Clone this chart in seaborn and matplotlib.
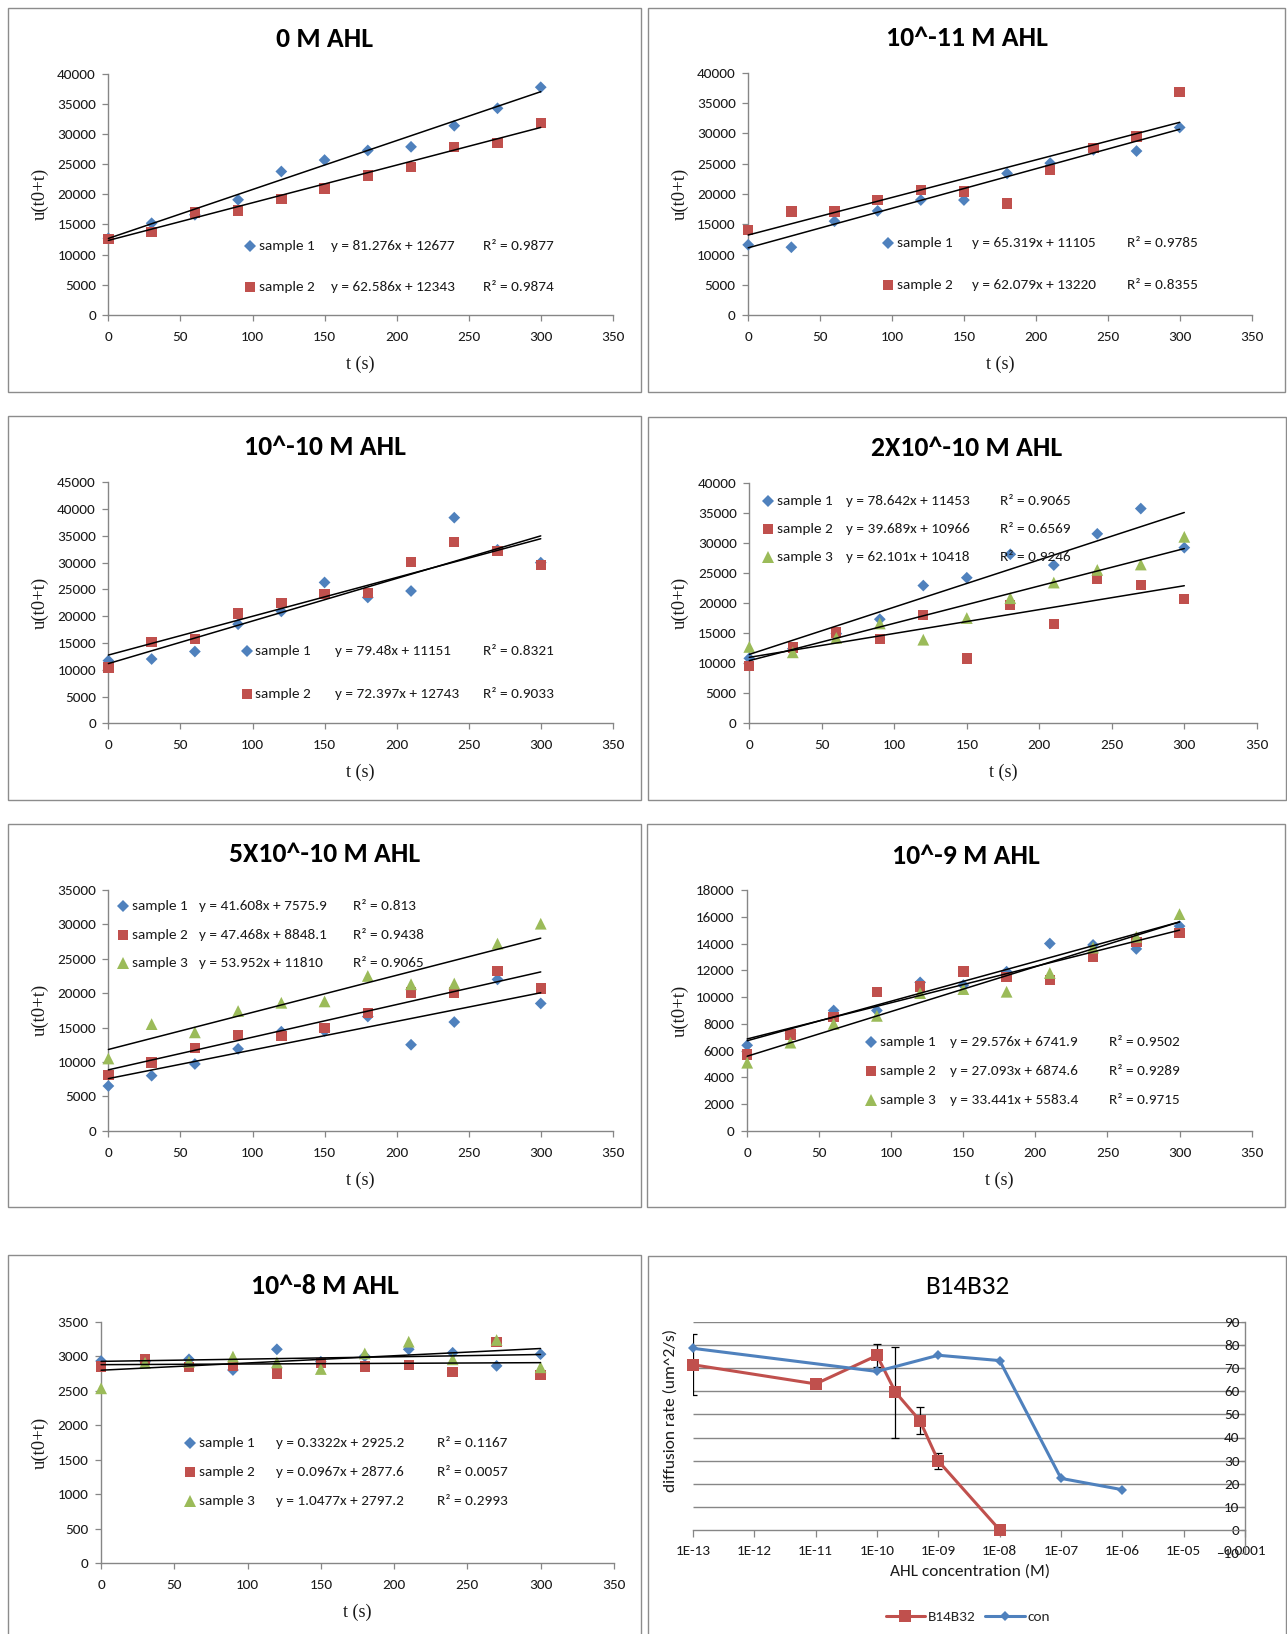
import numpy as np
import matplotlib
matplotlib.use("Agg")
import matplotlib.pyplot as plt
from matplotlib import font_manager
from matplotlib.patches import Rectangle
from matplotlib.lines import Line2D
from matplotlib.ticker import FixedLocator, FixedFormatter, NullLocator
import seaborn as sns

sns.set_theme(style="white")


def pick_font(names, fallback):
    available = {f.name for f in font_manager.fontManager.ttflist}
    for n in names:
        if n in available:
            return n
    return fallback


SANS = pick_font(["Carlito", "Lato", "Liberation Sans"], "DejaVu Sans")
SERIF = pick_font(["Liberation Serif", "DejaVu Serif"], "DejaVu Serif")
plt.rcParams["font.family"] = [SANS, "DejaVu Sans"]

# ---------------- data ----------------
t_s = [0, 30, 60, 90, 120, 150, 180, 210, 240, 270, 300]

# 0 M AHL
ahl0_s1 = [12700, 15200, 16600, 19100, 23800, 25700, 27300, 27900, 31400, 34300, 37800]
ahl0_s2 = [12600, 13700, 17000, 17300, 19200, 21000, 23100, 24500, 27900, 28500, 31900]
ahl0_slope = [81.276, 62.586]
ahl0_icpt = [12677, 12343]
ahl0_r2 = [0.9877, 0.9874]

# 10^-11 M AHL
e11_s1 = [11600, 11200, 15500, 17200, 19000, 19000, 23400, 25100, 27300, 27100, 31000]
e11_s2 = [14000, 17100, 17100, 19000, 20700, 20400, 18400, 24000, 27600, 29500, 36900]
e11_slope = [65.319, 62.079]
e11_icpt = [11105, 13220]
e11_r2 = [0.9785, 0.8355]

# 10^-10 M AHL
e10_s1 = [11700, 12000, 13400, 18500, 20900, 26300, 23500, 24700, 38400, 32400, 30000]
e10_s2 = [10400, 15200, 15700, 20500, 22500, 24100, 24300, 30100, 33900, 32200, 29600]
e10_slope = [79.48, 72.397]
e10_icpt = [11151, 12743]
e10_r2 = [0.8321, 0.9033]

# 2X10^-10 M AHL
x2e10_s1 = [10800, 12400, 14900, 17300, 22900, 24200, 28100, 26300, 31500, 35700, 29200]
x2e10_s2 = [9500, 12600, 15100, 14000, 18000, 10800, 19700, 16500, 24100, 23000, 20700]
x2e10_s3 = [12700, 11800, 14200, 16600, 13900, 17500, 20800, 23400, 25500, 26400, 31000]
x2e10_slope = [78.642, 39.689, 62.101]
x2e10_icpt = [11453, 10966, 10418]
x2e10_r2 = [0.9065, 0.6569, 0.9246]

# 5X10^-10 M AHL
x5e10_s1 = [6500, 8000, 9700, 11900, 14400, 14500, 16600, 12500, 15800, 22000, 18500]
x5e10_s2 = [8100, 9900, 12000, 13900, 13800, 14900, 17100, 20100, 20100, 23200, 20700]
x5e10_s3 = [10500, 15500, 14300, 17400, 18600, 18800, 22500, 21300, 21400, 27200, 30100]
x5e10_slope = [41.608, 47.468, 53.952]
x5e10_icpt = [7575.9, 8848.1, 11810]
x5e10_r2 = [0.813, 0.9438, 0.9065]

# 10^-9 M AHL
e9_s1 = [6400, 7300, 9000, 9000, 11100, 10900, 11900, 14000, 13900, 13600, 15300]
e9_s2 = [5700, 7200, 8500, 10400, 10800, 11900, 11500, 11300, 13000, 14100, 14800]
e9_s3 = [5100, 6600, 8000, 8600, 10300, 10600, 10400, 11800, 13700, 14500, 16200]
e9_slope = [29.576, 27.093, 33.441]
e9_icpt = [6741.9, 6874.6, 5583.4]
e9_r2 = [0.9502, 0.9289, 0.9715]

# 10^-8 M AHL
e8_s1 = [2930, 2920, 2955, 2800, 3100, 2920, 3000, 3100, 3050, 2860, 3030]
e8_s2 = [2850, 2950, 2840, 2860, 2750, 2900, 2850, 2875, 2775, 3210, 2725]
e8_s3 = [2535, 2905, 2920, 2995, 2910, 2815, 3040, 3210, 2955, 3235, 2840]
e8_slope = [0.3322, 0.0967, 1.0477]
e8_icpt = [2925.2, 2877.6, 2797.2]
e8_r2 = [0.1167, 0.0057, 0.2993]

sample_names = ["sample 1", "sample 2", "sample 3"]

# B14B32 summary: diffusion rate vs AHL concentration
b14_conc = [1e-13, 1e-11, 1e-10, 2e-10, 5e-10, 1e-9, 1e-8]
b14_rate = [71.5, 63.2, 75.5, 59.6, 47.3, 29.8, 0.0]
b14_err = [13.3, 0.0, 5.0, 19.7, 6.0, 3.3, 0.0]
con_conc = [1e-13, 1e-10, 1e-9, 1e-8, 1e-7, 1e-6]
con_rate = [78.6, 68.6, 75.6, 73.3, 22.3, 17.4]
conc_ticks = [1e-13, 1e-12, 1e-11, 1e-10, 1e-9, 1e-8, 1e-7, 1e-6, 1e-5, 1e-4]
conc_tick_labels = ["1E-13", "1E-12", "1E-11", "1E-10", "1E-09", "1E-08",
                    "1E-07", "1E-06", "1E-05", "0.0001"]
rate_ticks = [-10, 0, 10, 20, 30, 40, 50, 60, 70, 80, 90]

# ---------------- styling ----------------
BLUE = "#4F81BD"
RED = "#C0504D"
GREEN = "#9BBB59"
AXIS_GRAY = "#868686"
BOX_GRAY = "#8C8C8C"
TXT = "#1a1a1a"
STYLES = [("D", BLUE, 36), ("s", RED, 56), ("^", GREEN, 72)]
TICK_FS = 11
LEG_FS = 11

W, H = 1287, 1634
fig = plt.figure(figsize=(W / 100, H / 100), dpi=100)
fig.patch.set_facecolor("white")


def fx(x):
    return x / W


def fy(y):
    return 1 - y / H


def add_ax(x0, y0, x1, y1):
    return fig.add_axes([x0 / W, 1 - y1 / H, (x1 - x0) / W, (y1 - y0) / H])


def add_box(x0, y0, x1, y1):
    fig.add_artist(Rectangle((fx(x0), fy(y1)), (x1 - x0) / W, (y1 - y0) / H,
                             transform=fig.transFigure, fill=False,
                             edgecolor=BOX_GRAY, linewidth=1.0))


panels = [
    dict(title="0 M AHL", series=[ahl0_s1, ahl0_s2], slope=ahl0_slope,
         icpt=ahl0_icpt, r2=ahl0_r2, ymax=40000, ystep=5000,
         ax=(108.4, 74, 612.8, 314.7), box=(8, 8, 641, 392), ty=39,
         rows=[245.7, 286.7], cols=(250, 259, 331, 483.5)),
    dict(title="10^-11 M AHL", series=[e11_s1, e11_s2], slope=e11_slope,
         icpt=e11_icpt, r2=e11_r2, ymax=40000, ystep=5000,
         ax=(748.2, 73, 1251.6, 315), box=(648, 8, 1285, 392), ty=38.5,
         rows=[243.3, 285], cols=(888, 897, 972, 1127)),
    dict(title="10^-10 M AHL", series=[e10_s1, e10_s2], slope=e10_slope,
         icpt=e10_icpt, r2=e10_r2, ymax=45000, ystep=5000,
         ax=(108.4, 482.3, 612.8, 723.3), box=(8, 416, 641, 800), ty=447,
         rows=[650.7, 694.3], cols=(247, 255, 335.4, 483.5)),
    dict(title="2X10^-10 M AHL", series=[x2e10_s1, x2e10_s2, x2e10_s3],
         slope=x2e10_slope, icpt=x2e10_icpt, r2=x2e10_r2, ymax=40000, ystep=5000,
         ax=(749.3, 482.7, 1256.8, 723.3), box=(648, 417, 1286, 800), ty=448,
         rows=[500.7, 529.3, 556.7], cols=(767.6, 776.7, 845.8, 999.7)),
    dict(title="5X10^-10 M AHL", series=[x5e10_s1, x5e10_s2, x5e10_s3],
         slope=x5e10_slope, icpt=x5e10_icpt, r2=x5e10_r2, ymax=35000, ystep=5000,
         ax=(108.4, 890, 612.8, 1130.7), box=(8, 824, 641, 1207), ty=854,
         rows=[906, 935, 963.3], cols=(123.5, 132.5, 199, 353)),
    dict(title="10^-9 M AHL", series=[e9_s1, e9_s2, e9_s3], slope=e9_slope,
         icpt=e9_icpt, r2=e9_r2, ymax=18000, ystep=2000,
         ax=(747.2, 890, 1251.6, 1131), box=(647, 824, 1285, 1207), ty=855.5,
         rows=[1041.7, 1070.7, 1100], cols=(871.3, 879.6, 949.5, 1109.2)),
    dict(title="10^-8 M AHL", series=[e8_s1, e8_s2, e8_s3], slope=e8_slope,
         icpt=e8_icpt, r2=e8_r2, ymax=3500, ystep=500,
         ax=(101.1, 1321.7, 613.8, 1563.3), box=(8, 1255, 641, 1645), ty=1286,
         rows=[1443.3, 1471.7, 1500.7], cols=(190, 198.8, 275.7, 437.4)),
]

t_arr = np.array(t_s, dtype=float)

for p in panels:
    add_box(*p["box"])
    x0, y0, x1, y1 = p["ax"]
    ax = add_ax(x0, y0, x1, y1)
    ax.set_facecolor("none")

    for i, vals in enumerate(p["series"]):
        mk, col, size = STYLES[i]
        sns.scatterplot(x=t_s, y=vals, marker=mk, s=size, color=col,
                        linewidth=0, edgecolor="none", ax=ax, legend=False,
                        clip_on=False, zorder=3 + i)
    # linear trendlines from the fitted equations
    for m, b in zip(p["slope"], p["icpt"]):
        ax.plot(t_arr[[0, -1]], m * t_arr[[0, -1]] + b, color="black",
                linewidth=1.1, zorder=10, clip_on=False)

    ax.set_xlim(0, 350)
    ax.set_ylim(0, p["ymax"])
    ax.xaxis.set_major_locator(FixedLocator(list(range(0, 351, 50))))
    ax.yaxis.set_major_locator(FixedLocator(list(range(0, p["ymax"] + 1, p["ystep"]))))
    for s in ("top", "right"):
        ax.spines[s].set_visible(False)
    for s in ("left", "bottom"):
        ax.spines[s].set_color(AXIS_GRAY)
        ax.spines[s].set_linewidth(1.0)
    ax.tick_params(axis="both", direction="out", length=4, width=0.9,
                   color=AXIS_GRAY, labelsize=TICK_FS, labelcolor=TXT,
                   bottom=True, left=True)
    ax.tick_params(axis="x", pad=7.5)
    ax.tick_params(axis="y", pad=5)

    ah = y1 - y0
    aw = x1 - x0
    ax.set_xlabel("t (s)", fontfamily=SERIF, fontsize=13, color=TXT)
    ax.xaxis.set_label_coords(0.5, -40.5 / ah)
    ax.set_ylabel("u(t0+t)", fontfamily=SERIF, fontsize=13.5, color=TXT)
    ylab_x = 49 if x0 < 400 else 689
    ax.yaxis.set_label_coords((ylab_x - x0) / aw, 0.5)

    bx0, _, bx1, _ = p["box"]
    fig.text(fx((bx0 + bx1) / 2), fy(p["ty"]), p["title"], ha="center",
             va="center", fontsize=20, fontweight="bold", color="black")

    mx, lx, ex, rx = p["cols"]
    for i, ry in enumerate(p["rows"]):
        mk, col, size = STYLES[i]
        fig.add_artist(Line2D([fx(mx)], [fy(ry)], marker=mk, color=col,
                              markersize=np.sqrt(size), markeredgewidth=0,
                              linestyle="none", transform=fig.transFigure))
        fig.text(fx(lx), fy(ry), sample_names[i], ha="left", va="center",
                 fontsize=LEG_FS, color=TXT)
        fig.text(fx(ex), fy(ry), f"y = {p['slope'][i]:g}x + {p['icpt'][i]:g}",
                 ha="left", va="center", fontsize=LEG_FS, color=TXT)
        fig.text(fx(rx), fy(ry), f"R\u00b2 = {p['r2'][i]:g}", ha="left",
                 va="center", fontsize=LEG_FS, color=TXT)

# ---------------- B14B32 summary panel ----------------
add_box(648, 1256, 1286, 1645)
ax8 = add_ax(693, 1322, 1245, 1553)
ax8.set_facecolor("none")
ax8.set_xscale("log")
ax8.set_xlim(conc_ticks[0], conc_ticks[-1])
ax8.set_ylim(rate_ticks[0], rate_ticks[-1])
ax8.hlines(rate_ticks[2:], conc_ticks[0], conc_ticks[-1], color=AXIS_GRAY,
           linewidth=1.0, zorder=0)

b14_conc_a = np.array(b14_conc)
b14_rate_a = np.array(b14_rate)
b14_err_a = np.array(b14_err)
has_err = b14_err_a > 0
ax8.errorbar(b14_conc_a[has_err], b14_rate_a[has_err], yerr=b14_err_a[has_err],
             fmt="none", ecolor="black", elinewidth=0.9, capsize=3,
             capthick=0.9, zorder=2)
sns.lineplot(x=b14_conc, y=b14_rate, ax=ax8, color=RED, linewidth=2.2,
             marker="s", markersize=8, markeredgewidth=0, label="B14B32",
             zorder=3, clip_on=False)
sns.lineplot(x=con_conc, y=con_rate, ax=ax8, color=BLUE, linewidth=2.2,
             marker="D", markersize=5, markeredgewidth=0, label="con",
             zorder=4, clip_on=False)

ax8.xaxis.set_major_locator(FixedLocator(conc_ticks))
ax8.xaxis.set_major_formatter(FixedFormatter(conc_tick_labels))
ax8.xaxis.set_minor_locator(NullLocator())
ax8.yaxis.set_major_locator(FixedLocator(rate_ticks))
ax8.spines["top"].set_visible(False)
ax8.spines["right"].set_visible(False)
ax8.spines["bottom"].set_position(("data", 0))
ax8.spines["left"].set_position(("axes", 1.0))
for s in ("left", "bottom"):
    ax8.spines[s].set_color(AXIS_GRAY)
    ax8.spines[s].set_linewidth(1.0)
ax8.tick_params(axis="x", direction="out", length=5, width=0.9, color=AXIS_GRAY,
                labelsize=TICK_FS, labelcolor=TXT, bottom=True, pad=6)
ax8.tick_params(axis="y", direction="out", length=3, width=0.9, color=AXIS_GRAY,
                labelsize=TICK_FS, labelcolor=TXT, left=True, pad=1)

handles, labels = ax8.get_legend_handles_labels()
ax8.get_legend().remove()
fig.legend(handles, labels, loc="center", bbox_to_anchor=(fx(968), fy(1617)),
           ncol=2, frameon=False, fontsize=LEG_FS, handlelength=2.6,
           handletextpad=0.2, columnspacing=0.6)

fig.text(fx(967), fy(1287), "B14B32", ha="center", va="center", fontsize=19.5,
         color="black")
fig.text(fx(970), fy(1572), "AHL concentration (M)", ha="center", va="center",
         fontsize=12.5, color=TXT)
fig.text(fx(671), fy(1410), "diffusion rate (um^2/s)", ha="center",
         va="center", rotation=90, fontsize=12.5, color=TXT)

fig.savefig("out.png", dpi=100, facecolor="white")
